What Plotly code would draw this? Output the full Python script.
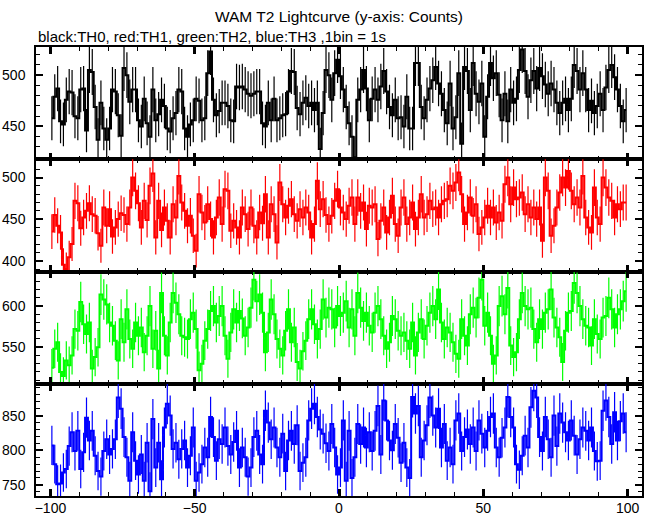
import numpy as np
import plotly.graph_objects as go
from plotly.subplots import make_subplots

# ---- data (counts per 1 s bin) ----
th0_counts = [
    458, 479, 487, 455, 452, 476, 484, 483, 460, 458,
    486, 487, 446, 505, 503, 469, 437, 473, 448, 437,
    448, 486, 484, 461, 441, 507, 500, 474, 486, 486,
    456, 450, 477, 453, 440, 486, 456, 462, 476, 470,
    448, 445, 458, 463, 486, 484, 448, 440, 452, 456,
    477, 475, 456, 458, 502, 523, 476, 461, 465, 473,
    473, 470, 456, 455, 489, 488, 489, 486, 482, 480,
    482, 484, 484, 453, 450, 473, 456, 477, 456, 458,
    461, 462, 484, 504, 503, 468, 462, 473, 478, 470,
    473, 466, 473, 428, 463, 505, 500,
    476, 502, 515, 499, 486, 469, 453, 440, 420, 476,
    486, 505, 487, 456, 477, 486, 476, 489, 504, 484,
    469, 461, 476, 458, 459, 450, 479, 448, 448, 512,
    512, 469, 458, 476, 487, 495, 508, 492, 482, 466,
    453, 492, 448, 459, 502, 433, 508, 504, 466, 512,
    482, 474, 492, 440, 479, 512, 497, 502, 481, 456,
    482, 455, 486, 473, 477, 505, 525, 504, 479, 495,
    504, 487, 507, 499, 491, 482, 492, 486, 473, 463,
    473, 477, 466, 477, 510, 504, 486, 502, 486, 466,
    475, 463, 470, 482, 466, 488, 505, 510, 498, 486, 470, 455, 466,
]
th1_counts = [
    435, 455, 442, 434, 395, 390, 404, 420, 472, 469,
    439, 452, 460, 469, 456, 454, 433, 418, 464, 442,
    462, 429, 440, 450, 457, 455, 444, 464, 500, 484,
    469, 440, 472, 449, 490, 505, 428, 472, 437, 464,
    448, 428, 468, 452, 502, 470, 460, 442, 454, 430,
    412, 480, 458, 446, 468, 450, 428, 452, 476, 444,
    486, 484, 436, 448, 440, 428, 464, 456, 438, 464,
    442, 428, 458, 445, 480, 428, 468, 456, 422, 494,
    468, 452, 466, 474, 456, 448, 462, 452, 464, 458,
    428, 444, 496, 462, 474, 455, 444,
    454, 472, 486, 464, 458, 450, 466, 476, 444, 476, 460, 470,
    438, 466, 464, 468, 426, 448, 464, 434, 452, 478, 444, 430,
    464, 476, 444, 452, 470, 438, 452, 480, 452, 456, 472, 462,
    464, 452, 468, 472, 474, 490, 484, 494, 506, 480, 444, 458,
    476, 454, 468, 432, 440, 452, 466, 452, 464, 446, 458, 448,
    492, 500, 468, 488, 474, 476, 482, 456, 468, 452, 464,
    450, 464, 424, 500, 484, 430, 442, 464, 482, 500, 488,
    508, 484, 468, 476, 464, 502, 452, 440, 434, 488, 452,
    444, 500, 488, 476, 472, 452, 468, 462, 470, 470,
]
th2_counts = [
    525, 548, 556, 520, 515, 534, 528, 540, 572, 570, 605, 578,
    566, 580, 524, 538, 550, 614, 608, 602, 580, 576, 558,
    534, 584, 556, 596, 560, 548, 580, 564, 574, 544, 564,
    600, 548, 570, 524, 616, 564, 540, 580, 616, 604, 590,
    564, 562, 560, 584, 592, 572, 522, 530, 558, 572, 594,
    600, 580, 588, 600, 564, 536, 568, 596, 580, 594, 585,
    564, 574, 598, 632, 606, 614, 592, 544, 568, 608, 590,
    560, 548, 540, 570, 596, 556, 574, 532, 524, 545, 558,
    584, 596, 578, 560, 572, 608, 586, 598,
    596, 574, 600, 588, 592, 606, 574, 596, 564, 616, 598, 582,
    592, 576, 568, 592, 600, 584, 564, 548, 556, 588, 584, 570,
    564, 568, 558, 548, 580, 540, 568, 584, 560, 576, 592, 600,
    584, 620, 580, 560, 574, 568, 556, 542, 536, 584, 564, 552,
    590, 598, 586, 610, 632, 576, 592, 564, 530, 540, 600, 612,
    590, 622, 552, 538, 544, 584, 616, 600, 596, 598, 572,
    556, 584, 572, 592, 596, 620, 586, 574, 562, 532, 570,
    592, 594, 628, 616, 600, 584, 576, 574, 552, 584, 566,
    560, 586, 588, 610, 596, 574, 590, 596, 606, 618,
]
th3_counts = [
    807, 780, 751, 752, 768, 773, 806, 826, 799, 828, 773, 797,
    847, 814, 828, 792, 770, 762, 799, 816, 794, 802, 816,
    876, 860, 819, 790, 756, 826, 785, 765, 794, 756, 811,
    741, 845, 775, 811, 758, 833, 867, 850, 802, 811, 787,
    802, 814, 775, 792, 833, 756, 768, 780, 804, 790, 848,
    819, 785, 816, 809, 833, 806, 794, 812, 828, 775, 804,
    790, 762, 775, 819, 828, 794, 780, 857, 840, 816, 833,
    804, 790, 824, 770, 814, 828, 809, 836, 770, 782, 790,
    843, 860, 867, 848, 830, 824, 810, 799,
    838, 804, 765, 775, 843, 756, 828, 760, 790, 838, 809, 833,
    804, 826, 799, 828, 864, 794, 872, 843, 814, 800, 838, 818,
    782, 811, 775, 760, 877, 853, 864, 790, 814, 836, 876, 850,
    833, 860, 804, 838, 785, 804, 780, 843, 853, 799, 819, 830,
    809, 833, 799, 843, 824, 804, 828, 848, 853, 804, 790, 818,
    833, 877, 848, 833, 780, 772, 792, 821, 804, 862, 886,
    876, 819, 799, 848, 816, 790, 850, 806, 853, 840, 826,
    814, 843, 821, 794, 816, 833, 828, 814, 833, 799, 784,
    785, 857, 872, 848, 809, 855, 814, 842, 853, 826,
]

n_bins = len(th0_counts)
time_s = [-99.5 + k for k in range(n_bins)]   # bin centres, 1 bin = 1 s

series = [th0_counts, th1_counts, th2_counts, th3_counts]
colors = ["#000000", "#ff0000", "#00ff00", "#0000ff"]
y_ranges = [[418, 527.5], [387, 522], [505.6, 642], [734, 896]]
x_range = [-105, 105]
x_ticks = [-100, -50, 0, 50, 100]

FONT = "Liberation Sans, Arial, Helvetica, sans-serif"

fig = make_subplots(rows=4, cols=1, shared_xaxes=True, vertical_spacing=0)

for i, (vals, col) in enumerate(zip(series, colors)):
    vals = np.asarray(vals, dtype=float)
    fig.add_trace(
        go.Scatter(
            x=time_s, y=vals, mode="lines",
            line=dict(color=col, width=2, shape="hvh"),
            error_y=dict(type="data", array=np.sqrt(vals), width=0,
                         thickness=1.2, color=col),
            hoverinfo="skip", showlegend=False,
        ),
        row=i + 1, col=1,
    )
    fig.update_yaxes(
        range=y_ranges[i], tick0=0, dtick=50, ticks="inside", ticklen=7,
        tickwidth=1.5, tickcolor="black",
        minor=dict(dtick=10, ticklen=4, tickwidth=1, ticks="inside",
                   tickcolor="black", showgrid=False),
        showline=True, linecolor="black", linewidth=1.5, mirror="ticks",
        showgrid=False, zeroline=False, ticklabelstandoff=6,
        automargin=False,
        tickfont=dict(size=14, family=FONT, color="black"),
        row=i + 1, col=1,
    )
    fig.update_xaxes(
        range=x_range, tickvals=x_ticks, ticks="inside", ticklen=7,
        tickwidth=2.5, tickcolor="black",
        minor=dict(dtick=10, tick0=0, ticklen=4, tickwidth=1, ticks="inside",
                   tickcolor="black", showgrid=False),
        showline=True, linecolor="black", linewidth=1.5, mirror="ticks",
        showgrid=False, zeroline=False, automargin=False,
        showticklabels=(i == 3), ticklabelstandoff=-2,
        tickfont=dict(size=14, family=FONT, color="black"),
        row=i + 1, col=1,
    )

fig.update_layout(
    width=653, height=515,
    margin=dict(l=36, r=11, t=47, b=19, autoexpand=False),
    paper_bgcolor="white", plot_bgcolor="white",
    font=dict(family=FONT, size=14, color="black"),
    title=dict(text="WAM T2 Lightcurve (y-axis: Counts)", x=0.5, xref="paper",
               xanchor="center", y=1 - 17 / 515, yanchor="middle", automargin=False,
               font=dict(size=15.5, family=FONT, color="black")),
    annotations=[dict(
        text="black:TH0, red:TH1, green:TH2, blue:TH3 ,1bin = 1s",
        xref="paper", yref="paper", x=0, y=1 + 11 / 449,
        xanchor="left", yanchor="middle", showarrow=False,
        font=dict(size=15, family=FONT, color="black"),
    )],
)

# remove the default page margin so the 653x515 figure fills the window exactly
fig.write_html("out.html",
               config={"displayModeBar": False},
               post_script="document.body.style.margin='0';document.body.style.overflow='hidden';")
